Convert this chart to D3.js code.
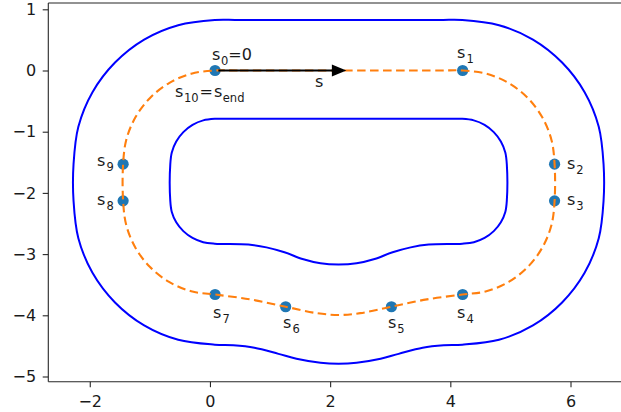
<!DOCTYPE html>
<html>
<head>
<meta charset="utf-8">
<script src="https://cdn.jsdelivr.net/npm/d3@7"></script>
<style>
  body { margin: 0; background: #fff; }
  text { font-family: "DejaVu Sans", sans-serif; }
</style>
</head>
<body>
<svg id="chart" width="621" height="412"></svg>
<script>
// Axis ticks
const xTicks = [-2, 0, 2, 4, 6];
const yTicks = [1, 0, -1, -2, -3, -4, -5];

// Track reference line (closed loop), [x, y]
const centerline = [
  [0.085, 0], [0.5, 0], [3.8, 0], [4.205, 0],
  [4.60, -0.052], [4.97, -0.205], [5.287, -0.448], [5.53, -0.765], [5.683, -1.134], [5.735, -1.53],
  [5.735, -2.13], [5.683, -2.526], [5.53, -2.895], [5.287, -3.212], [4.97, -3.455], [4.60, -3.608], [4.205, -3.66],
  [3.61, -3.74], [3.02, -3.86], [2.5, -3.965], [2.14, -3.995], [1.78, -3.965], [1.26, -3.86], [0.67, -3.74], [0.085, -3.66],
  [-0.311, -3.608], [-0.68, -3.455], [-0.997, -3.212], [-1.24, -2.895], [-1.393, -2.526], [-1.445, -2.13],
  [-1.445, -1.53], [-1.393, -1.134], [-1.24, -0.765], [-0.997, -0.448], [-0.68, -0.205], [-0.311, -0.052]
];

// Outer track boundary (closed loop)
const outerEdge = [
  [0.08, 0.825], [0.5, 0.825], [3.8, 0.825], [4.2, 0.825],
  [4.81, 0.74], [5.375, 0.505], [5.86, 0.13], [6.235, -0.355], [6.47, -0.92], [6.55, -1.53],
  [6.55, -2.13], [6.47, -2.74], [6.235, -3.305], [5.86, -3.79], [5.375, -4.165], [4.81, -4.40], [4.2, -4.48],
  [3.89, -4.49], [3.54, -4.53], [3.14, -4.63], [2.84, -4.71], [2.44, -4.775], [2.14, -4.79], [1.84, -4.775],
  [1.44, -4.71], [1.14, -4.63], [0.74, -4.53], [0.39, -4.49], [0.08, -4.48],
  [-0.528, -4.40], [-1.095, -4.165], [-1.58, -3.79], [-1.955, -3.305], [-2.19, -2.74], [-2.27, -2.13],
  [-2.27, -1.53], [-2.19, -0.92], [-1.955, -0.355], [-1.58, 0.13], [-1.095, 0.505], [-0.528, 0.74]
];

// Inner track boundary (closed loop)
const innerEdge = [
  [0.08, -0.79], [0.5, -0.79], [3.8, -0.79], [4.2, -0.79],
  [4.39, -0.815], [4.57, -0.889], [4.723, -1.007], [4.841, -1.16], [4.915, -1.338], [4.94, -1.53],
  [4.94, -2.13], [4.915, -2.311], [4.841, -2.48], [4.723, -2.625], [4.57, -2.736], [4.392, -2.806], [4.2, -2.83],
  [3.64, -2.845], [3.34, -2.89], [3.04, -2.97], [2.74, -3.08], [2.44, -3.15], [2.14, -3.17], [1.84, -3.15],
  [1.54, -3.08], [1.24, -2.97], [0.94, -2.89], [0.64, -2.845], [0.08, -2.83],
  [-0.112, -2.806], [-0.29, -2.736], [-0.443, -2.625], [-0.561, -2.48], [-0.635, -2.311], [-0.66, -2.13],
  [-0.66, -1.53], [-0.635, -1.338], [-0.561, -1.16], [-0.443, -1.007], [-0.29, -0.889], [-0.112, -0.815]
];

// Stations along the track
const stationIds = ["0", "1", "2", "3", "4", "5", "6", "7", "8", "9"];
const stationX = [0.085, 4.205, 5.735, 5.735, 4.205, 3.02, 1.26, 0.085, -1.445, -1.445];
const stationY = [0, 0, -1.53, -2.13, -3.66, -3.86, -3.86, -3.66, -2.13, -1.53];

// Direction-of-travel arrow
const arrowStart = [0.14, 0];
const arrowEnd = [2.27, 0];

// Label placement relative to each station, in pixels
const labelShift = [
  [-3, -10.5], [-5.6, -12.5], [12.4, 5], [12.4, 4], [-5.6, 23.5],
  [-3.4, 21.3], [-2.6, 21], [-2, 23.5], [-26, 4], [-26, 2]
];

const svg = d3.select("#chart");
const x = d3.scaleLinear().domain([-2.69, 6.99]).range([48.3, 630]);
const y = d3.scaleLinear().domain([-5.085, 1.103]).range([381.7, 3]);

const plotLeft = 48.3, plotTop = 3, plotBottom = 381.7;
const fontMain = "16px", fontSub = "11.5px";

svg.append("defs").append("clipPath").attr("id", "plotClip")
  .append("rect").attr("x", plotLeft).attr("y", plotTop)
  .attr("width", 630 - plotLeft).attr("height", plotBottom - plotTop);

const plot = svg.append("g").attr("clip-path", "url(#plotClip)");

const loop = d3.line()
  .x(d => x(d[0])).y(d => y(d[1]))
  .curve(d3.curveCatmullRomClosed.alpha(0.5));

// Boundaries
[outerEdge, innerEdge].forEach(edge => {
  plot.append("path").attr("d", loop(edge))
    .attr("fill", "none").attr("stroke", "#0000ff").attr("stroke-width", 2);
});

// Station markers
plot.selectAll("circle.station").data(stationIds).join("circle")
  .attr("class", "station")
  .attr("cx", (d, i) => x(stationX[i]))
  .attr("cy", (d, i) => y(stationY[i]))
  .attr("r", 5.6)
  .attr("fill", "#1f77b4");

// Reference line
plot.append("path").attr("d", loop(centerline))
  .attr("fill", "none").attr("stroke", "#ff7f0e").attr("stroke-width", 2.1)
  .attr("stroke-dasharray", "8.5,4.5");

// Arrow
const ax0 = x(arrowStart[0]), ax1 = x(arrowEnd[0]), ay = y(arrowEnd[1]);
const headLen = 14.5, headHalf = 6;
plot.append("line")
  .attr("x1", ax0).attr("y1", y(arrowStart[1]))
  .attr("x2", ax1 - headLen + 1).attr("y2", ay)
  .attr("stroke", "#000").attr("stroke-width", 2.2);
plot.append("path")
  .attr("d", `M${ax1},${ay}L${ax1 - headLen},${ay - headHalf}L${ax1 - headLen},${ay + headHalf}Z`)
  .attr("fill", "#000");

// Axes
const xAxis = d3.axisBottom(x).tickValues(xTicks).tickFormat(d3.format("d"))
  .tickSize(5.5).tickPadding(8).tickSizeOuter(0);
const yAxis = d3.axisLeft(y).tickValues(yTicks).tickFormat(d3.format("d"))
  .tickSize(5.6).tickPadding(6.5).tickSizeOuter(0);

const gx = svg.append("g").attr("transform", `translate(0,${plotBottom})`).call(xAxis);
const gy = svg.append("g").attr("transform", `translate(${plotLeft},0)`).call(yAxis);
[gx, gy].forEach(g => {
  g.select(".domain").remove();
  g.selectAll(".tick line").attr("stroke", "#262626").attr("stroke-width", 1.1);
  g.selectAll(".tick text").attr("fill", "#1a1a1a")
    .style("font-family", '"DejaVu Sans", sans-serif').style("font-size", fontMain);
});

// Spines
const spine = (x1, y1, x2, y2) => svg.append("line")
  .attr("x1", x1).attr("y1", y1).attr("x2", x2).attr("y2", y2)
  .attr("stroke", "#262626").attr("stroke-width", 1.1);
spine(plotLeft, plotTop, plotLeft, plotBottom);
spine(plotLeft, plotBottom, 621, plotBottom);
spine(plotLeft, plotTop, 621, plotTop);

// Text with subscripts: parts = [[text, isSub, gap], ...]
function richText(px, py, parts) {
  const t = svg.append("text").attr("x", px).attr("y", py)
    .attr("fill", "#1a1a1a").style("font-size", fontMain);
  let lowered = false;
  parts.forEach(([str, sub, gap]) => {
    const span = t.append("tspan").text(str);
    if (sub && !lowered) { span.attr("dy", 5); lowered = true; }
    else if (!sub && lowered) { span.attr("dy", -5); lowered = false; }
    if (sub) span.style("font-size", fontSub);
    if (gap) span.attr("dx", gap);
  });
  return t;
}

stationIds.forEach((id, i) => {
  const px = x(stationX[i]) + labelShift[i][0];
  const py = y(stationY[i]) + labelShift[i][1];
  if (i === 0) {
    richText(px, py, [["s"], [id, true, 0.5], ["=0"]]);
  } else {
    richText(px, py, [["s"], [id, true, 1]]);
  }
});

// End-of-lap label at the start station
richText(x(stationX[0]) - 40, y(stationY[0]) + 26.5,
  [["s"], ["10", true, 0.5], ["=", false, 1], ["s", false, 1], ["end", true, 0.5]]);

// Arc-length label under the arrow
svg.append("text").attr("x", x(1.747)).attr("y", y(0) + 16.5)
  .attr("fill", "#1a1a1a").style("font-size", fontMain).text("s");
</script>
</body>
</html>
